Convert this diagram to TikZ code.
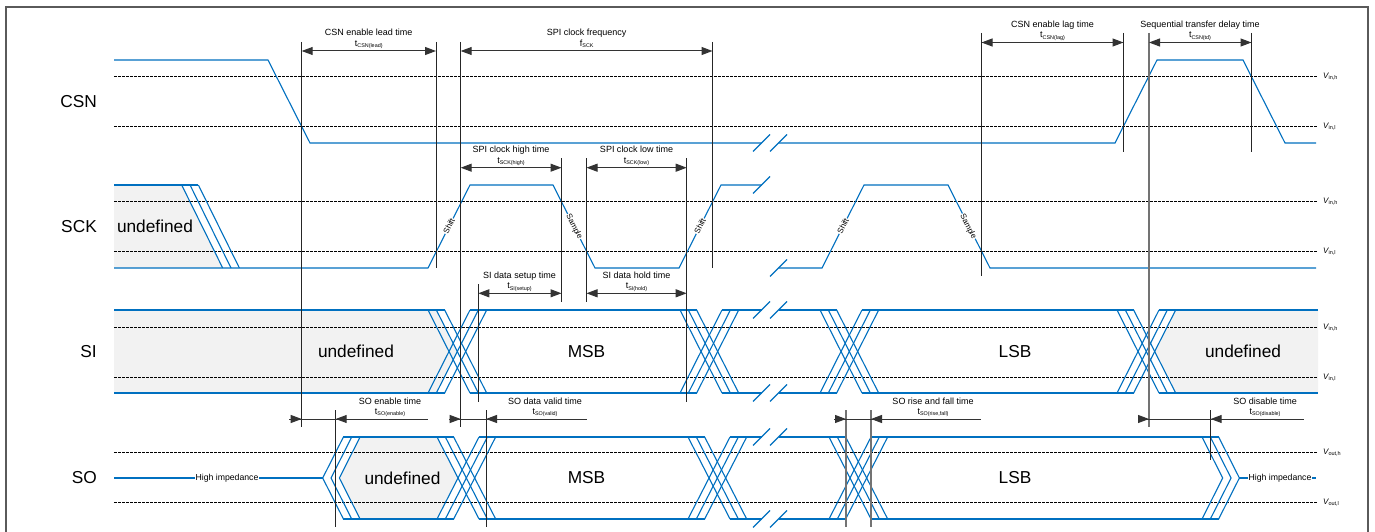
\documentclass[tikz,border=0pt]{standalone}
\usepackage{fontspec}
\setmainfont{Liberation Sans}
\usetikzlibrary{arrows.meta}
\definecolor{sigblue}{RGB}{0,112,192}
\definecolor{undefgray}{RGB}{242,242,242}
\definecolor{framegray}{RGB}{90,90,90}
\newcommand\tsub[2]{{\fontsize{9}{10}\selectfont #1}\raisebox{-1.3pt}{\fontsize{5.4}{6}\selectfont #2}}
\newcommand\vsub[2]{{\fontsize{8}{9}\selectfont\itshape #1}\raisebox{-1pt}{\fontsize{5.5}{6}\selectfont #2}}
\newcommand\datax[3]{\foreach \o in {0,8.33,16.67}{\draw[sig] (#1+\o,#2) -- (#1+\o+42,#3); \draw[sig] (#1+\o,#3) -- (#1+\o+42,#2);}}
\newcommand\brkpair[1]{\draw[sig] (753,#1+8.5) -- (770,#1-8.5); \draw[sig] (770,#1+8.5) -- (787,#1-8.5);}
\begin{document}
\begin{tikzpicture}[x=1pt,y=-1pt,
  sig/.style={draw=sigblue, line width=1.1pt},
  thr/.style={draw=black, line width=0.8pt, dash pattern=on 2.5pt off 1.5pt},
  vl/.style={draw=black!85, line width=1pt},
  vlg/.style={draw=black!55, line width=1.3pt},
  dimln/.style={draw=black!80, line width=1pt},
  dimarr/.style={dimln, {Triangle[length=11pt,width=8pt]}-{Triangle[length=11pt,width=8pt]}},
  arrtip/.style={draw=black!80, line width=1pt, -{Triangle[length=11pt,width=8pt]}},
  signame/.style={font=\fontsize{17.3}{20}\selectfont, anchor=east, inner sep=0pt},
  valtxt/.style={font=\fontsize{17.3}{20}\selectfont, inner sep=0pt},
  notetxt/.style={font=\fontsize{9}{10}\selectfont, inner sep=0pt, anchor=base},
  edgelbl/.style={font=\fontsize{8}{9}\selectfont, fill=white, inner sep=0.5pt},
  vlab/.style={anchor=west, inner sep=0pt},
  hiz/.style={font=\fontsize{8.7}{10}\selectfont, fill=white, inner sep=0.5pt}]
\useasboundingbox (0,0) rectangle (1375,532);
\fill[white] (0,0) rectangle (1375,532);
% frame
\draw[framegray, line width=1.6pt] (6,545) -- (6,7) -- (1368,7) -- (1368,545);

% ---------------- fills
\fill[undefgray] (114,185) -- (181.7,185) -- (222.7,268) -- (114,268) -- cycle;
\fill[undefgray] (114,310) -- (436.3,310) -- (457.3,351.5) -- (436.3,393) -- (114,393) -- cycle;
\fill[undefgray] (1154.7,351.5) -- (1175.7,310) -- (1318,310) -- (1318,393) -- (1175.7,393) -- cycle;
\fill[undefgray] (339.7,478) -- (360.4,437) -- (437,437) -- (458,478) -- (437,519) -- (360.4,519) -- cycle;

% ---------------- thresholds
\foreach \y in {76,126,201,251,327,377,452,502} \draw[thr] (114,\y) -- (1317,\y);

% ---------------- CSN
\draw[sig] (114,60) -- (268,60) -- (310,143) -- (761.5,143);
\draw[sig] (778.5,143) -- (1115,143) -- (1157,60) -- (1243,60) -- (1285,143) -- (1316,143);
\brkpair{143}

% ---------------- SCK
\draw[sig] (114,185) -- (198.3,185);
\foreach \o in {0,8.33,16.67} \draw[sig] (181.7+\o,185) -- (222.7+\o,268);
\draw[sig] (114,268) -- (428,268) -- (470,185) -- (553,185) -- (595,268) -- (679,268) -- (721,185) -- (761.5,185);
\draw[sig] (753,193.5) -- (770,176.5);
\draw[sig] (770,276.5) -- (787,259.5);
\draw[sig] (778.5,268) -- (822,268) -- (864,185) -- (948,185) -- (990,268) -- (1316,268);

% ---------------- SI
\foreach \y in {310,393}{
  \draw[sig] (114,\y) -- (444.7,\y);
  \draw[sig] (470,\y) -- (696.7,\y);
  \draw[sig] (722,\y) -- (761.5,\y);
  \draw[sig] (778.5,\y) -- (836.7,\y);
  \draw[sig] (862,\y) -- (1133.7,\y);
  \draw[sig] (1159,\y) -- (1318,\y);
}
\datax{428}{310}{393}
\datax{680}{310}{393}
\datax{820}{310}{393}
\datax{1117}{310}{393}
\brkpair{310}
\brkpair{393}

% ---------------- SO
\draw[sig] (114,478) -- (322.7,478);
\foreach \o in {0,8.33,16.67} \draw[sig] (343.4+\o,437) -- (322.7+\o,478) -- (343.4+\o,519);
\foreach \y in {437,519}{
  \draw[sig] (343.4,\y) -- (453.7,\y);
  \draw[sig] (479,\y) -- (704.7,\y);
  \draw[sig] (730,\y) -- (761.5,\y);
  \draw[sig] (778.5,\y) -- (845.7,\y);
  \draw[sig] (871,\y) -- (1218.7,\y);
}
\datax{437}{437}{519}
\datax{688}{437}{519}
\datax{829}{437}{519}
\foreach \o in {0,8.33,16.67} \draw[sig] (1202+\o,437) -- (1222.7+\o,478) -- (1202+\o,519);
\draw[sig] (1239.4,478) -- (1316,478);
\brkpair{437}
\brkpair{519}

% ---------------- verticals
\draw[vl] (301.7,42) -- (301.7,427);
\draw[vl] (436,42) -- (436,268);
\draw[vl] (460.7,42) -- (460.7,427);
\draw[vl] (712.5,42) -- (712.5,268);
\draw[vl] (981.5,33) -- (981.5,276);
\draw[vl] (1123.5,33) -- (1123.5,152);
\draw[vlg] (1149,33) -- (1149,427);
\draw[vl] (1251.5,33) -- (1251.5,152);
\draw[vl] (561.5,158) -- (561.5,302);
\draw[vl] (586.5,158) -- (586.5,302);
\draw[vl] (686.7,158) -- (686.7,402);
\draw[vl] (478.3,284) -- (478.3,402);
\draw[vl] (335.7,410) -- (335.7,527);
\draw[vl] (486,410) -- (486,527);
\draw[vlg] (846,410) -- (846,527);
\draw[vlg] (871,410) -- (871,527);
\draw[vl] (1210.7,410) -- (1210.7,460);

% ---------------- dimension arrows
\draw[dimarr] (301.7,51) -- (436,51);
\draw[dimarr] (460.7,51) -- (712.5,51);
\draw[dimarr] (981.5,42.5) -- (1123.5,42.5);
\draw[dimarr] (1149,42.5) -- (1251.5,42.5);
\draw[dimarr] (460.7,167.7) -- (561.5,167.7);
\draw[dimarr] (586.5,167.7) -- (686.7,167.7);
\draw[dimarr] (478.3,293.3) -- (561.5,293.3);
\draw[dimarr] (586.5,293.3) -- (686.7,293.3);

\draw[dimln] (289,419) -- (427.7,419);
\draw[arrtip] (289,419) -- (301.7,419);
\draw[arrtip] (347,419) -- (335.7,419);
\draw[dimln] (449,419) -- (586.7,419);
\draw[arrtip] (449,419) -- (460.7,419);
\draw[arrtip] (497,419) -- (486,419);
\draw[dimln] (834,419) -- (981,419);
\draw[arrtip] (834,419) -- (846,419);
\draw[arrtip] (882,419) -- (871,419);
\draw[dimln] (1138,419) -- (1304,419);
\draw[arrtip] (1138,419) -- (1149,419);
\draw[arrtip] (1222,419) -- (1210.7,419);

% ---------------- annotation texts
\node[notetxt] (l1) at (368.7,36) {CSN enable lead time};
\node[notetxt] (s1) at (368.7,46.5) {\tsub{t}{CSN(lead)}};
\node[notetxt] (l2) at (586.7,36) {SPI clock frequency};
\node[notetxt] (s2) at (586.7,46.5) {\tsub{f}{SCK}};
\node[notetxt] (l3) at (1052.5,27.5) {CSN enable lag time};
\node[notetxt] (s3) at (1052.5,38) {\tsub{t}{CSN(lag)}};
\node[notetxt] (l4) at (1200,27.5) {Sequential transfer delay time};
\node[notetxt] (s4) at (1200,38) {\tsub{t}{CSN(td)}};
\node[notetxt] (l5) at (511,152.7) {SPI clock high time};
\node[notetxt] (s5) at (511,163.2) {\tsub{t}{SCK(high)}};
\node[notetxt] (l6) at (636.5,152.7) {SPI clock low time};
\node[notetxt] (s6) at (636.5,163.2) {\tsub{t}{SCK(low)}};
\node[notetxt] (l7) at (519.5,278.3) {SI data setup time};
\node[notetxt] (s7) at (519.5,288.8) {\tsub{t}{SI(setup)}};
\node[notetxt] (l8) at (636.5,278.3) {SI data hold time};
\node[notetxt] (s8) at (636.5,288.8) {\tsub{t}{SI(hold)}};
\node[notetxt] (l9) at (390,404) {SO enable time};
\node[notetxt] (s9) at (390,414.5) {\tsub{t}{SO(enable)}};
\node[notetxt] (l10) at (545,404) {SO data valid time};
\node[notetxt] (s10) at (545,414.5) {\tsub{t}{SO(valid)}};
\node[notetxt] (l11) at (933,404) {SO rise and fall time};
\node[notetxt] (s11) at (933,414.5) {\tsub{t}{SO(rise,fall)}};
\node[notetxt] (l12) at (1265,404) {SO disable time};
\node[notetxt] (s12) at (1265,414.5) {\tsub{t}{SO(disable)}};

% edge labels
\node[edgelbl, rotate=63.2] (e1) at (449,226) {Shift};
\node[edgelbl, rotate=-63.2] (e2) at (574,226.5) {Sample};
\node[edgelbl, rotate=63.2] (e3) at (700,226) {Shift};
\node[edgelbl, rotate=63.2] (e4) at (843,226) {Shift};
\node[edgelbl, rotate=-63.2] (e5) at (968,226.5) {Sample};

% high impedance
\node[hiz] (h1) at (227,478) {High impedance};
\node[hiz] (h2) at (1280,478) {High impedance};

% signal names
\node[signame] (n1) at (97,101.5) {CSN};
\node[signame] (n2) at (97,226.5) {SCK};
\node[signame] (n3) at (97,351.5) {SI};
\node[signame] (n4) at (97,478) {SO};

% values
\node[valtxt] (v1) at (155,226.5) {undefined};
\node[valtxt] (v2) at (356,351.5) {undefined};
\node[valtxt] (v3) at (586.5,351.5) {MSB};
\node[valtxt] (v4) at (1015,351.5) {LSB};
\node[valtxt] (v5) at (1243,351.5) {undefined};
\node[valtxt] (v6) at (402.5,478) {undefined};
\node[valtxt] (v7) at (586.5,478) {MSB};
\node[valtxt] (v8) at (1015,478) {LSB};

% threshold labels
\node[vlab] (t1) at (1323,77) {\vsub{V}{in,h}};
\node[vlab] (t2) at (1323,127) {\vsub{V}{in,l}};
\node[vlab] (t3) at (1323,202) {\vsub{V}{in,h}};
\node[vlab] (t4) at (1323,252) {\vsub{V}{in,l}};
\node[vlab] (t5) at (1323,327.5) {\vsub{V}{in,h}};
\node[vlab] (t6) at (1323,377.5) {\vsub{V}{in,l}};
\node[vlab] (t7) at (1323,453) {\vsub{V}{out,h}};
\node[vlab] (t8) at (1323,503) {\vsub{V}{out,l}};
\end{tikzpicture}
\end{document}
